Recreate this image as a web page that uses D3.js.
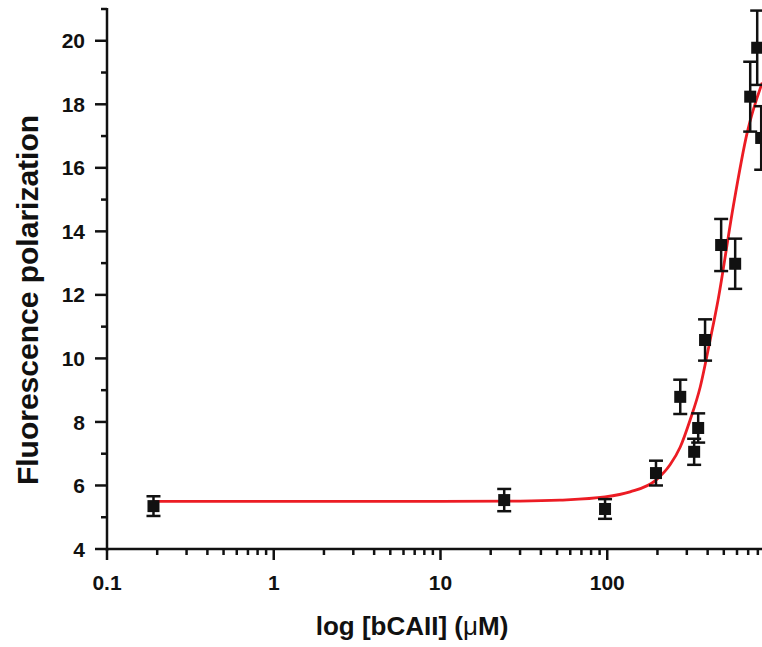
<!DOCTYPE html>
<html>
<head>
<meta charset="utf-8">
<script src="https://cdnjs.cloudflare.com/ajax/libs/d3/7.8.5/d3.min.js"></script>
<style>
  body { margin: 0; background: #fff; }
  text { font-family: "Liberation Sans", Arial, sans-serif; font-weight: bold; fill: #111; }
</style>
</head>
<body>
<svg width="762" height="647"></svg>
<script>
// measured points: concentration (uM), polarization, error
const conc = [0.19, 24.1, 97, 196, 274, 332, 351, 386, 482, 585, 720, 793, 838];
const polar = [5.35, 5.54, 5.26, 6.39, 8.79, 7.06, 7.81, 10.58, 13.57, 12.98, 18.24, 19.78, 16.94];
const errs = [0.31, 0.35, 0.31, 0.39, 0.54, 0.41, 0.46, 0.65, 0.82, 0.79, 1.1, 1.17, 1.0];

// fitted curve
const fitX = [0.19, 1, 10, 30, 52, 97, 137, 196, 238, 274, 314, 361, 414, 462, 569, 690, 850];
const fitY = [5.5, 5.5, 5.5, 5.51, 5.54, 5.64, 5.8, 6.17, 6.65, 7.21, 8.06, 9.1, 10.58, 11.84, 14.77, 17.1, 18.68];

const xMajor = [0.1, 1, 10, 100];
const yMajor = [4, 6, 8, 10, 12, 14, 16, 18, 20];
const yMinor = [5, 7, 9, 11, 13, 15, 17, 19, 21];

const svg = d3.select("svg");

const x = d3.scaleLog().domain([0.1, 1000]).range([107, 774]);
const y = d3.scaleLinear().domain([4, 21]).range([549, 9]);

const xMinor = [];
[0.1, 1, 10, 100].forEach(d => { for (let k = 2; k <= 9; k++) xMinor.push(d * k); });

//X AXIS
const gx = svg.append("g").attr("transform", "translate(0,549)");
gx.append("line").attr("x1", 106).attr("x2", 762).attr("stroke", "#111").attr("stroke-width", 2.5);
gx.selectAll(".minor").data(xMinor).enter().append("line")
  .attr("x1", d => x(d)).attr("x2", d => x(d)).attr("y1", 0).attr("y2", 6)
  .attr("stroke", "#111").attr("stroke-width", 2.5);
gx.selectAll(".major").data(xMajor).enter().append("line")
  .attr("x1", d => x(d)).attr("x2", d => x(d)).attr("y1", 0).attr("y2", 11)
  .attr("stroke", "#111").attr("stroke-width", 2.5);
gx.selectAll("text").data(xMajor).enter().append("text")
  .attr("x", d => x(d)).attr("y", 41).attr("text-anchor", "middle")
  .attr("font-size", "21px").text(d => d);

//Y AXIS
const gy = svg.append("g").attr("transform", "translate(107,0)");
gy.append("line").attr("y1", y(21) - 1).attr("y2", 551).attr("stroke", "#111").attr("stroke-width", 2.5);
gy.selectAll(".minor").data(yMinor).enter().append("line")
  .attr("x1", -6).attr("x2", 0).attr("y1", d => y(d)).attr("y2", d => y(d))
  .attr("stroke", "#111").attr("stroke-width", 2.5);
gy.selectAll(".major").data(yMajor).enter().append("line")
  .attr("x1", -12).attr("x2", 0).attr("y1", d => y(d)).attr("y2", d => y(d))
  .attr("stroke", "#111").attr("stroke-width", 2.5);
gy.selectAll("text").data(yMajor).enter().append("text")
  .attr("x", -22).attr("y", d => y(d)).attr("dy", "0.36em").attr("text-anchor", "end")
  .attr("font-size", "21px").text(d => d);

//LABELS
const xl = svg.append("text").attr("x", 412).attr("y", 635).attr("text-anchor", "middle").attr("font-size", "26px");
xl.append("tspan").text("log [bCAII] (");
xl.append("tspan").attr("font-weight", "normal").text("μ");
xl.append("tspan").text("M)");

svg.append("text")
   .attr("transform", "translate(38,300) rotate(-90)")
   .attr("text-anchor", "middle")
   .attr("font-size", "30px")
   .text("Fluorescence polarization");

//FIT CURVE
const line = d3.line().x(d => x(d[0])).y(d => y(d[1])).curve(d3.curveMonotoneX);
svg.append("path")
   .datum(fitX.map((d, i) => [d, fitY[i]]))
   .attr("d", line)
   .attr("fill", "none")
   .attr("stroke", "#ec1c24")
   .attr("stroke-width", 2.8);

//ERROR BARS + MARKERS
const pts = conc.map((d, i) => ({ c: d, p: polar[i], e: errs[i] }));
const g = svg.append("g").attr("stroke", "#111").attr("stroke-width", 2.5);
g.selectAll(".bar").data(pts).enter().append("line")
 .attr("x1", d => x(d.c)).attr("x2", d => x(d.c))
 .attr("y1", d => y(d.p - d.e)).attr("y2", d => y(d.p + d.e));
g.selectAll(".capT").data(pts).enter().append("line")
 .attr("x1", d => x(d.c) - 7).attr("x2", d => x(d.c) + 7)
 .attr("y1", d => y(d.p + d.e)).attr("y2", d => y(d.p + d.e));
g.selectAll(".capB").data(pts).enter().append("line")
 .attr("x1", d => x(d.c) - 7).attr("x2", d => x(d.c) + 7)
 .attr("y1", d => y(d.p - d.e)).attr("y2", d => y(d.p - d.e));
svg.selectAll(".pt").data(pts).enter().append("rect")
   .attr("x", d => x(d.c) - 6).attr("y", d => y(d.p) - 6)
   .attr("width", 12).attr("height", 12)
   .attr("fill", "#111");
</script>
</body>
</html>
